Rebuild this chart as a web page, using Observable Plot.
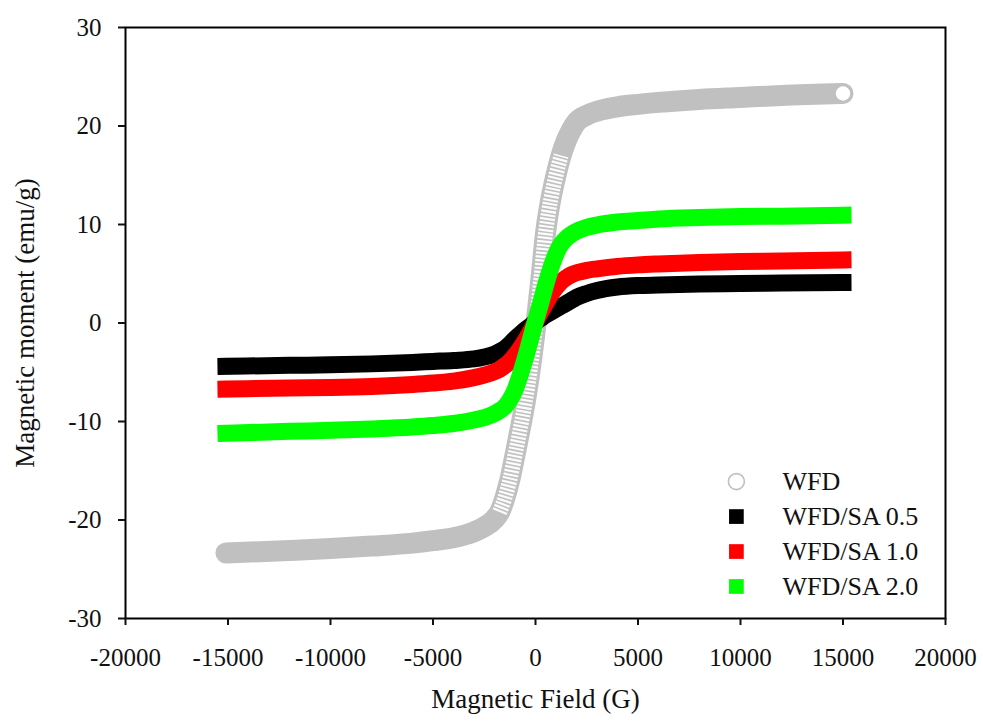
<!DOCTYPE html>
<html><head><meta charset="utf-8">
<script src="https://cdn.jsdelivr.net/npm/d3@7"></script>
<script src="https://cdn.jsdelivr.net/npm/@observablehq/plot@0.6"></script>
<style>body{margin:0;background:#fff}</style>
</head><body><div id="chart"></div>
<script>
// Magnetic field (G)
const field = [-15100, -12000, -10000, -8000, -6000, -5000, -4000, -3000, -2500, -2000, -1750, -1500, -1250, -1000, -750, -500, -250, 0, 250, 500, 750, 1000, 1250, 1500, 1750, 2000, 2500, 3000, 4000, 5000, 6000, 8000, 10000, 12000, 15000];
// Magnetic moment (emu/g)
const wfd   = [-23.35, -23.1, -22.9, -22.65, -22.35, -22.1, -21.8, -21.2, -20.7, -19.9, -19.2, -17.8, -15.9, -13.4, -10.8, -8.0, -4.6, -0.5, 4.2, 9.3, 12.6, 15.0, 17.0, 18.5, 19.6, 20.4, 21.1, 21.5, 21.95, 22.2, 22.4, 22.7, 22.9, 23.1, 23.3];
const sa05  = [-4.4, -4.3, -4.25, -4.15, -4.0, -3.9, -3.8, -3.65, -3.45, -3.15, -2.9, -2.6, -2.15, -1.6, -1.15, -0.7, -0.3, 0.1, 0.45, 0.8, 1.1, 1.4, 1.7, 2.0, 2.3, 2.6, 3.0, 3.3, 3.65, 3.8, 3.85, 3.95, 4.0, 4.05, 4.1];
const sa10  = [-6.7, -6.6, -6.55, -6.45, -6.25, -6.1, -5.9, -5.55, -5.3, -4.95, -4.7, -4.35, -3.9, -3.3, -2.6, -1.8, -0.9, 0.1, 1.1, 2.0, 2.9, 3.6, 4.2, 4.6, 4.9, 5.1, 5.35, 5.5, 5.75, 5.9, 6.0, 6.15, 6.25, 6.3, 6.4];
const sa20  = [-11.2, -11.0, -10.9, -10.75, -10.55, -10.4, -10.2, -9.85, -9.6, -9.2, -8.9, -8.5, -7.8, -6.8, -5.3, -3.6, -1.7, 0.2, 2.0, 3.9, 5.6, 7.0, 8.0, 8.6, 9.0, 9.3, 9.7, 9.95, 10.25, 10.4, 10.55, 10.7, 10.8, 10.85, 10.95];

const seriesNames  = ["WFD", "WFD/SA 0.5", "WFD/SA 1.0", "WFD/SA 2.0"];
const seriesColors = ["#c0c0c0", "#000000", "#ff0000", "#00ff00"];
const xTicks = [-20000, -15000, -10000, -5000, 0, 5000, 10000, 15000, 20000];
const yTicks = [-30, -20, -10, 0, 10, 20, 30];
const xTitle = "Magnetic Field (G)";
const yTitle = "Magnetic moment (emu/g)";

const rows = vals => field.map((h, i) => ({h, m: vals[i]}));
const wfdRows = rows(wfd), r05 = rows(sa05), r10 = rows(sa10), r20 = rows(sa20);
const legend = seriesNames.map((name, i) => ({name, color: seriesColors[i], i}));
const legX = 9800, legTextX = 12050, legY0 = -16.1, legStep = 3.55;

const font = "'Liberation Serif', 'Times New Roman', serif";
const lineOpts = (color, w) => ({x: "h", y: "m", stroke: color, strokeWidth: w, curve: "monotone-x", strokeLinejoin: "round"});

const chart = Plot.plot({
  width: 983, height: 725,
  marginLeft: 125, marginRight: 38, marginTop: 27, marginBottom: 107,
  x: {domain: [-20000, 20000]},
  y: {domain: [-30, 30]},
  style: {fontFamily: font, color: "#111", background: "#fff"},
  marks: [
    Plot.line(wfdRows, {...lineOpts(seriesColors[0], 21), strokeLinecap: "round"}),
    Plot.line(wfdRows.filter(d => d.m > -19.3 && d.m < 18), {...lineOpts("#ffffff", 15), strokeOpacity: 0.95, strokeDasharray: "2.2,1.6", strokeLinecap: "butt"}),
    Plot.dot(wfdRows.slice(-1), {x: "h", y: "m", r: 8, fill: "#fff", stroke: seriesColors[0], strokeWidth: 1.6}),
    Plot.line(r05, {...lineOpts(seriesColors[1], 17), strokeLinecap: "square"}),
    Plot.line(r10, {...lineOpts(seriesColors[2], 17), strokeLinecap: "square"}),
    Plot.line(r20, {...lineOpts(seriesColors[3], 17), strokeLinecap: "square"}),
    Plot.frame({stroke: "#000", strokeWidth: 2}),
    Plot.axisX({ticks: xTicks, tickSize: 7, tickPadding: 23, tickFormat: d => String(d), fontSize: 25, strokeWidth: 2, label: null}),
    Plot.axisY({ticks: yTicks, tickSize: 7, tickPadding: 17, tickFormat: d => String(d), fontSize: 25, strokeWidth: 2, label: null}),
    Plot.text([xTitle], {frameAnchor: "bottom", dy: 89, fontSize: 27, fill: "#111", textAnchor: "middle"}),
    Plot.text([yTitle], {frameAnchor: "left", dx: -100, rotate: -90, fontSize: 27, fill: "#111", textAnchor: "middle"}),
    Plot.dot(legend.filter(d => d.i === 0), {x: () => legX, y: d => legY0 - d.i * legStep, r: 8, fill: "#fff", stroke: d => d.color, strokeWidth: 1.6}),
    Plot.dot(legend.filter(d => d.i > 0), {x: () => legX, y: d => legY0 - d.i * legStep, r: 8.3, symbol: "square", fill: d => d.color}),
    Plot.text(legend, {x: () => legTextX, y: d => legY0 - d.i * legStep, text: "name", textAnchor: "start", fontSize: 26, fill: "#111"})
  ]
});
document.getElementById("chart").appendChild(chart);
</script>
</body></html>
